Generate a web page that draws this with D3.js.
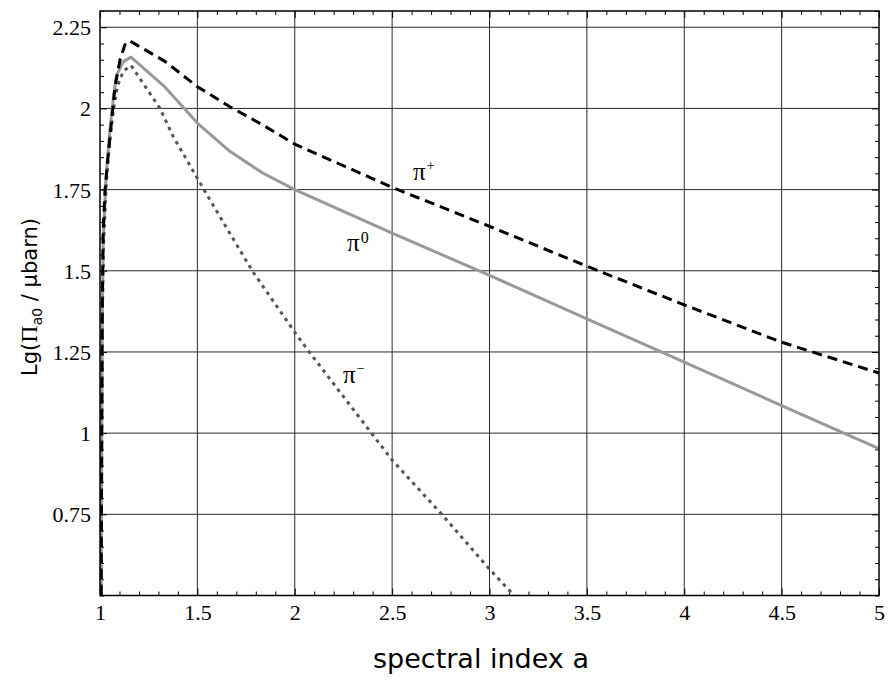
<!DOCTYPE html>
<html>
<head>
<meta charset="utf-8">
<script src="https://cdn.jsdelivr.net/npm/d3@7/dist/d3.min.js"></script>
<style>
  html, body { margin: 0; padding: 0; background: #fff; }
  svg { display: block; }
</style>
</head>
<body>
<svg id="chart" width="890" height="682"></svg>
<script>
// Spectral index values and log cross sections per pion species
const piPlusX  = [1.006, 1.009, 1.012, 1.016, 1.026, 1.043, 1.06, 1.077, 1.103, 1.128, 1.15, 1.333, 1.5, 1.667, 1.833, 2.0, 2.5, 3.0, 3.5, 4.0, 4.5, 5.0];
const piPlusY  = [0.5, 1.0, 1.4, 1.62, 1.75, 1.862, 1.965, 2.067, 2.15, 2.196, 2.209, 2.145, 2.067, 2.005, 1.95, 1.89, 1.757, 1.637, 1.514, 1.395, 1.28, 1.185];

const piZeroX  = [1.006, 1.009, 1.012, 1.017, 1.031, 1.051, 1.07, 1.085, 1.12, 1.159, 1.333, 1.5, 1.667, 1.833, 2.0, 2.5, 3.0, 3.5, 4.0, 4.5, 5.0];
const piZeroY  = [0.5, 1.0, 1.38, 1.6, 1.79, 1.934, 2.04, 2.103, 2.144, 2.158, 2.066, 1.955, 1.868, 1.802, 1.75, 1.616, 1.486, 1.352, 1.219, 1.085, 0.952];

const piMinusX = [1.006, 1.009, 1.012, 1.018, 1.032, 1.05, 1.07, 1.09, 1.12, 1.16, 1.308, 1.376, 1.5, 1.555, 1.667, 1.786, 2.0, 2.068, 2.5, 2.758, 3.0, 3.12, 3.2];
const piMinusY = [0.5, 0.98, 1.35, 1.58, 1.77, 1.9, 2.0, 2.07, 2.115, 2.132, 2.0, 1.913, 1.785, 1.728, 1.615, 1.496, 1.311, 1.255, 0.917, 0.748, 0.581, 0.504, 0.45];

// Axis ticks
const xMajor = [1, 1.5, 2, 2.5, 3, 3.5, 4, 4.5, 5];
const xMajorLabels = ["1", "1.5", "2", "2.5", "3", "3.5", "4", "4.5", "5"];
const yMajor = [0.75, 1, 1.25, 1.5, 1.75, 2, 2.25];
const yMajorLabels = ["0.75", "1", "1.25", "1.5", "1.75", "2", "2.25"];
const xMinor = d3.range(10, 51).map(v => v / 10).filter(v => !xMajor.some(m => Math.abs(m - v) < 1e-9));
const yMinor = d3.range(10, 47).map(v => v / 20).filter(v => !yMajor.some(m => Math.abs(m - v) < 1e-9));

const svg = d3.select("#chart");
const L = 100, R = 879, T = 11, B = 595.5;
const W = R - L, H = B - T;
const serif = "'Liberation Serif', 'Times New Roman', serif";
const sans = "'DejaVu Sans', 'Liberation Sans', sans-serif";

const x = d3.scaleLinear().domain([1, 5]).range([L, R]);
const y = d3.scaleLinear().domain([0.5, 2.3]).range([B, T]);

svg.append("defs").append("clipPath").attr("id", "plot-clip")
  .append("rect").attr("x", L).attr("y", T).attr("width", W).attr("height", H);

// Grid lines at major ticks
const grid = svg.append("g").attr("stroke", "#2a2a2a").attr("stroke-width", 1);
grid.selectAll("line.v").data(xMajor.slice(1, -1)).join("line")
  .attr("x1", d => x(d)).attr("x2", d => x(d)).attr("y1", T).attr("y2", B);
grid.selectAll("line.h").data(yMajor).join("line")
  .attr("y1", d => y(d)).attr("y2", d => y(d)).attr("x1", L).attr("x2", R);

// Inward ticks on all four sides
function tickAxis(axisFn, scale, values, size, transform, labels) {
  const a = axisFn(scale).tickValues(values).tickSizeInner(size).tickSizeOuter(0)
    .tickFormat(labels ? (d, i) => labels[i] : () => "");
  const g = svg.append("g").attr("transform", transform).call(a)
    .attr("font-family", serif).attr("font-size", 22);
  g.select(".domain").remove();
  g.selectAll(".tick line").attr("stroke", "#000").attr("stroke-width", 1);
  g.selectAll(".tick text").attr("fill", "#000");
  return g;
}
const majLen = 7, minLen = 4;
const bottomMajor = tickAxis(d3.axisBottom, x, xMajor, -majLen, `translate(0,${B})`, xMajorLabels);
bottomMajor.selectAll(".tick text").attr("y", 9);
tickAxis(d3.axisBottom, x, xMinor, -minLen, `translate(0,${B})`);
tickAxis(d3.axisTop, x, xMajor, -majLen, `translate(0,${T})`);
tickAxis(d3.axisTop, x, xMinor, -minLen, `translate(0,${T})`);
const leftMajor = tickAxis(d3.axisLeft, y, yMajor, -majLen, `translate(${L},0)`, yMajorLabels);
leftMajor.selectAll(".tick text").attr("x", -9).attr("dy", "0.34em");
tickAxis(d3.axisLeft, y, yMinor, -minLen, `translate(${L},0)`);
tickAxis(d3.axisRight, y, yMajor, -majLen, `translate(${R},0)`);
tickAxis(d3.axisRight, y, yMinor, -minLen, `translate(${R},0)`);

// Curves
const line = d3.line().x(d => x(d[0])).y(d => y(d[1]));
const curves = svg.append("g").attr("clip-path", "url(#plot-clip)").attr("fill", "none");
curves.append("path").datum(d3.zip(piZeroX, piZeroY)).attr("d", line)
  .attr("stroke", "#999").attr("stroke-width", 3).attr("stroke-linejoin", "round");
curves.append("path").datum(d3.zip(piMinusX, piMinusY)).attr("d", line)
  .attr("stroke", "#555").attr("stroke-width", 3).attr("stroke-dasharray", "3.5,4.5");
curves.append("path").datum(d3.zip(piPlusX, piPlusY)).attr("d", line)
  .attr("stroke", "#000").attr("stroke-width", 3).attr("stroke-dasharray", "10,6");

// Frame
svg.append("rect").attr("x", L).attr("y", T).attr("width", W).attr("height", H)
  .attr("fill", "none").attr("stroke", "#000").attr("stroke-width", 1.5);

// Curve labels
function piLabel(px, py, sup, supDy, supSize) {
  const t = svg.append("text").attr("x", px).attr("y", py)
    .attr("font-family", serif).attr("font-size", 25).attr("fill", "#000");
  t.append("tspan").text("π");
  t.append("tspan").attr("dx", 1).attr("dy", supDy).attr("font-size", supSize).text(sup);
}
piLabel(413, 180, "+", -10, 14);
piLabel(347, 251, "0", -8, 16);
piLabel(343, 383, "−", -10, 14);

// Axis titles
svg.append("text").attr("x", 481).attr("y", 668).attr("text-anchor", "middle")
  .attr("font-family", sans).attr("font-size", 27).attr("fill", "#000")
  .text("spectral index a");

const yt = svg.append("text").attr("transform", `translate(37,297) rotate(-90)`)
  .attr("text-anchor", "middle").attr("font-family", sans).attr("font-size", 21).attr("fill", "#000");
yt.append("tspan").text("Lg(");
yt.append("tspan").attr("font-family", serif).attr("font-size", 24).text("Π");
yt.append("tspan").attr("font-size", 14).attr("dy", 5).text("a0");
yt.append("tspan").attr("dy", -5).text(" / μbarn)");
</script>
</body>
</html>
